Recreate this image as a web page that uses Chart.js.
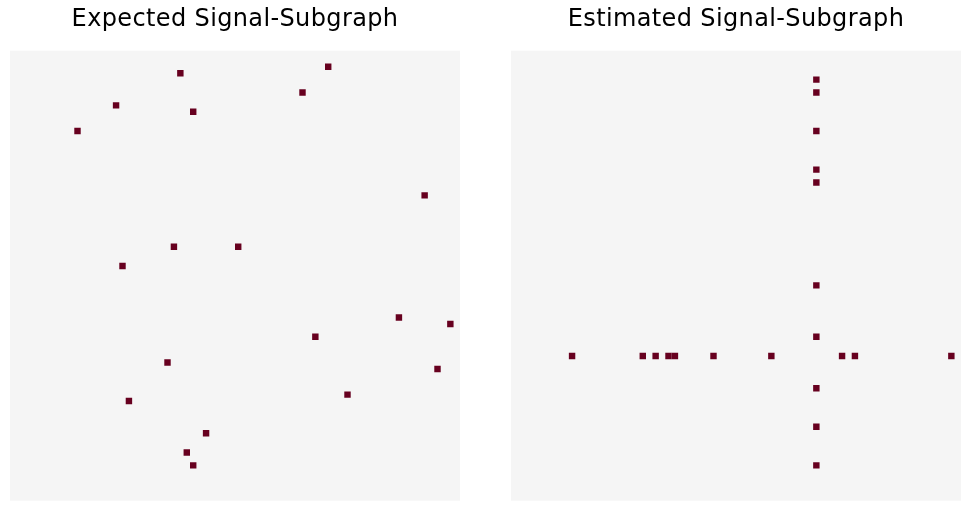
<!DOCTYPE html>
<html>
<head>
<meta charset="utf-8">
<script src="https://cdn.jsdelivr.net/npm/chart.js@4/dist/chart.umd.min.js"></script>
<style>
  html, body { margin: 0; padding: 0; background: #ffffff; }
  #wrap { position: relative; width: 970px; height: 511px; }
  .box { position: absolute; top: 0; width: 450px; height: 511px; }
</style>
</head>
<body>
<div id="wrap">
  <div class="box" style="left:10px"><canvas id="c1"></canvas></div>
  <div class="box" style="left:511px"><canvas id="c2"></canvas></div>
</div>
<script>
// Grid size (number of nodes)
const nNodes = 70;

// Titles
const titles = ["Expected Signal-Subgraph", "Estimated Signal-Subgraph"];

// Expected signal-subgraph: edge rows and columns
const expectedRows = [2, 3, 6, 8, 9, 12, 22, 30, 30, 33, 41, 42, 44, 48, 49, 53, 54, 59, 62, 64];
const expectedCols = [49, 26, 45, 16, 28, 10, 64, 25, 35, 17, 60, 68, 47, 24, 66, 52, 18, 30, 27, 28];

// Estimated signal-subgraph: edge rows and columns
const estimatedRows = [4, 6, 12, 18, 20, 36, 44, 52, 58, 64,
                       47, 47, 47, 47, 47, 47, 47, 47, 47, 47];
const estimatedCols = [47, 47, 47, 47, 47, 47, 47, 47, 47, 47,
                       9, 20, 22, 24, 25, 31, 40, 51, 53, 68];

const bgColor = '#f5f5f5';
const edgeColor = '#67001f';

const bgPlugin = {
  id: 'heatBg',
  beforeDraw(chart) {
    // slightly wider glyph spacing, like the reference's title rendering
    chart.ctx.letterSpacing = '0.37px';
  },
  beforeDatasetsDraw(chart) {
    const a = chart.chartArea;
    const ctx = chart.ctx;
    ctx.save();
    ctx.fillStyle = bgColor;
    ctx.fillRect(a.left, a.top, a.right - a.left, a.bottom - a.top);
    ctx.restore();
  }
};

function cellRadius(ctx) {
  const a = ctx.chart.chartArea;
  const w = a ? (a.right - a.left) : 450;
  return (w / nNodes) / Math.SQRT2;
}

function makeChart(id, title, rows, cols) {
  const pts = rows.map((r, i) => ({ x: cols[i] + 0.5, y: r + 0.5 }));
  return new Chart(document.getElementById(id), {
    type: 'scatter',
    data: {
      datasets: [{
        data: pts,
        pointStyle: 'rect',
        backgroundColor: edgeColor,
        borderWidth: 0,
        pointRadius: cellRadius,
        pointHoverRadius: cellRadius
      }]
    },
    options: {
      responsive: true,
      maintainAspectRatio: false,
      animation: false,
      events: [],
      layout: { autoPadding: false, padding: { left: 0, right: 0, top: 0, bottom: 10.3 } },
      plugins: {
        legend: { display: false },
        tooltip: { enabled: false },
        title: {
          display: true,
          text: title,
          color: '#000000',
          font: { family: "'DejaVu Sans'", size: 24, weight: 'normal', lineHeight: 1.2 },
          padding: { top: 5.3, bottom: 16.6 }
        }
      },
      scales: {
        x: { type: 'linear', min: 0, max: nNodes, display: false },
        y: { type: 'linear', min: 0, max: nNodes, reverse: true, display: false }
      }
    },
    plugins: [bgPlugin]
  });
}

makeChart('c1', titles[0], expectedRows, expectedCols);
makeChart('c2', titles[1], estimatedRows, estimatedCols);
</script>
</body>
</html>
